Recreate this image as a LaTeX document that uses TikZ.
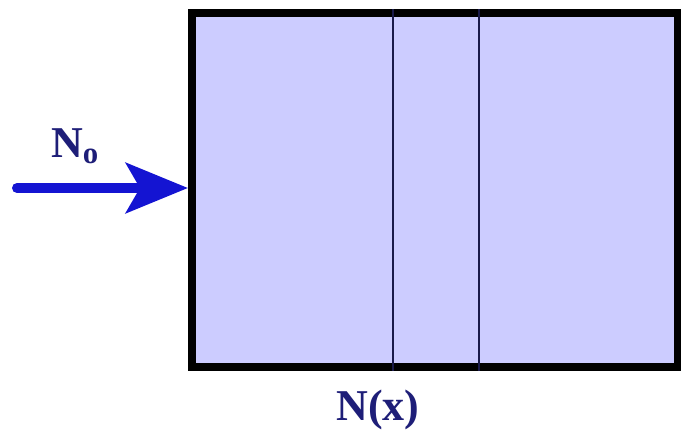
\documentclass[tikz,border=0pt]{standalone}
\usepackage{fontspec}
\setmainfont{Liberation Serif}
\usetikzlibrary{arrows.meta, positioning}
\definecolor{slabfill}{HTML}{CCCCFF}
\definecolor{beamblue}{HTML}{1414D2}
\definecolor{labelnavy}{HTML}{1E1E78}
\definecolor{linenavy}{HTML}{1A1A4A}
\tikzset{
  every picture/.style={x=1pt, y=-1pt},
  slab/.style={draw=black, fill=slabfill, line width=8pt, inner sep=0pt, minimum width=486pt, minimum height=354pt},
  divider/.style={draw=linenavy, line width=2pt},
  beam/.style={-{Stealth[length=62pt, width=50pt, inset=14pt]}, draw=beamblue, line width=10pt, line cap=round},
  label/.style={font=\fontsize{44}{48}\selectfont\bfseries, text=labelnavy, inner sep=0pt},
}

\begin{document}
\begin{tikzpicture}
  \useasboundingbox (0,0) rectangle (681,437);
  \node[slab] (slab) at (435,190) {};
  % the two planes inside the slab
  \foreach \x in {393,479}
    \draw[divider] (slab.north -| \x,0) -- (slab.south -| \x,0);
  \coordinate (src) at (17,188);
  \draw[beam] (src) -- (slab.west |- src);
  \node[label] (nzero) at (75,146) {N\textsubscript{o}};
  \node[label] (nx) at (378,410) {N(x)};
\end{tikzpicture}
\end{document}
